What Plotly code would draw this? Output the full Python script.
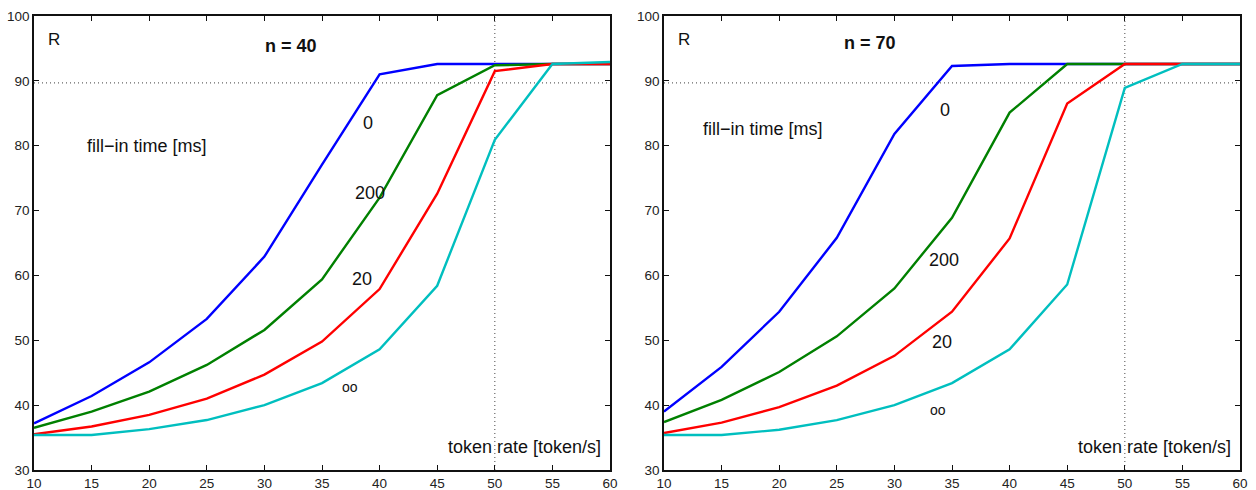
import plotly.graph_objects as go

x_rate = [10, 15, 20, 25, 30, 35, 40, 45, 50, 55, 60]
fill_labels = ["0", "200", "20", "oo"]
colors = ["#0000FF", "#008000", "#FF0000", "#00BFBF"]

# n = 40
n40 = {
    "0":   [37.2, 41.4, 46.6, 53.3, 62.9, 77.1, 91.0, 92.6, 92.6, 92.6, 92.6],
    "200": [36.5, 39.0, 42.1, 46.2, 51.6, 59.4, 72.0, 87.8, 92.4, 92.6, 92.6],
    "20":  [35.5, 36.7, 38.5, 41.0, 44.7, 49.8, 57.9, 72.6, 91.5, 92.6, 92.6],
    "oo":  [35.4, 35.4, 36.3, 37.7, 40.0, 43.4, 48.6, 58.4, 80.9, 92.6, 92.9],
}
# n = 70
n70 = {
    "0":   [39.0, 45.9, 54.4, 65.8, 81.8, 92.3, 92.6, 92.6, 92.6, 92.6, 92.6],
    "200": [37.4, 40.8, 45.1, 50.6, 58.0, 68.9, 85.1, 92.6, 92.6, 92.6, 92.6],
    "20":  [35.7, 37.3, 39.7, 43.0, 47.6, 54.4, 65.7, 86.5, 92.6, 92.6, 92.6],
    "oo":  [35.4, 35.4, 36.2, 37.7, 40.0, 43.4, 48.6, 58.6, 88.9, 92.6, 92.6],
}
x_ticks = [10, 15, 20, 25, 30, 35, 40, 45, 50, 55, 60]
y_ticks = [30, 40, 50, 60, 70, 80, 90, 100]
ref_rate = 50
ref_R = 89.7

panels = [
    dict(title="n = 40", data=n40, title_pos=(32.3, 95.3), fill_pos=(19.8, 79.9),
         label_pos={"0": (39.0, 83.5), "200": (39.2, 72.7), "20": (38.5, 59.5), "oo": (37.4, 42.8)}),
    dict(title="n = 70", data=n70, title_pos=(27.9, 95.8), fill_pos=(18.6, 82.6),
         label_pos={"0": (34.4, 85.5), "200": (34.3, 62.4), "20": (34.1, 49.8), "oo": (33.8, 39.3)}),
]

W, H = 1256, 490
domains_x = [[34 / W, 610 / W], [664 / W, 1240 / W]]
domain_y = [1 - 470 / H, 1 - 16 / H]

fig = go.Figure()
font = "Liberation Sans, Arial, sans-serif"
txt = "#111111"
annotations = []
shapes = []

for i, p in enumerate(panels):
    xa = "x" if i == 0 else "x2"
    ya = "y" if i == 0 else "y2"
    for lab, col in zip(fill_labels, colors):
        fig.add_trace(go.Scatter(x=x_rate, y=p["data"][lab], mode="lines",
                                 line=dict(color=col, width=2.4), xaxis=xa, yaxis=ya,
                                 showlegend=False, hoverinfo="skip"))
    # dotted reference lines
    shapes.append(dict(type="line", xref=xa, yref=ya, x0=10, x1=60, y0=ref_R, y1=ref_R,
                       line=dict(color="#666666", width=1.2, dash="1px,3px"), layer="below"))
    shapes.append(dict(type="line", xref=xa, yref=ya, x0=ref_rate, x1=ref_rate, y0=30, y1=100,
                       line=dict(color="#666666", width=1.2, dash="1px,3px"), layer="below"))
    annotations.append(dict(x=11.0, y=96.3, xref=xa, yref=ya, text="R", showarrow=False,
                            xanchor="left", font=dict(family=font, size=17, color=txt)))
    annotations.append(dict(x=p["title_pos"][0], y=p["title_pos"][1], xref=xa, yref=ya,
                            text="<b>" + p["title"] + "</b>", showarrow=False,
                            font=dict(family=font, size=18, color=txt)))
    annotations.append(dict(x=p["fill_pos"][0], y=p["fill_pos"][1], xref=xa, yref=ya,
                            text="fill\u2212in time [ms]", showarrow=False,
                            font=dict(family=font, size=18, color=txt)))
    annotations.append(dict(x=52.6, y=33.6, xref=xa, yref=ya, text="token rate [token/s]",
                            showarrow=False, font=dict(family=font, size=18, color=txt)))
    for lab in fill_labels:
        lx, ly = p["label_pos"][lab]
        annotations.append(dict(x=lx, y=ly, xref=xa, yref=ya, text=lab, showarrow=False,
                                font=dict(family=font, size=14 if lab == "oo" else 18, color=txt)))

axis_common = dict(showline=True, linecolor="#111", linewidth=1.5, mirror="ticks",
                   ticks="inside", ticklen=5, tickwidth=1, tickcolor="#111",
                   showgrid=False, zeroline=False, automargin=False,
                   tickfont=dict(family=font, size=13.5, color="#222"))

fig.update_layout(
    width=W, height=H, margin=dict(l=0, r=0, t=0, b=0),
    template="none", paper_bgcolor="white", plot_bgcolor="white",
    annotations=annotations, shapes=shapes,
    xaxis=dict(domain=domains_x[0], range=[10, 60], tickvals=x_ticks, anchor="y", **axis_common),
    yaxis=dict(domain=domain_y, range=[30, 100], tickvals=y_ticks, anchor="x", **axis_common),
    xaxis2=dict(domain=domains_x[1], range=[10, 60], tickvals=x_ticks, anchor="y2", **axis_common),
    yaxis2=dict(domain=domain_y, range=[30, 100], tickvals=y_ticks, anchor="x2", **axis_common),
)

fig.write_html("out.html")
